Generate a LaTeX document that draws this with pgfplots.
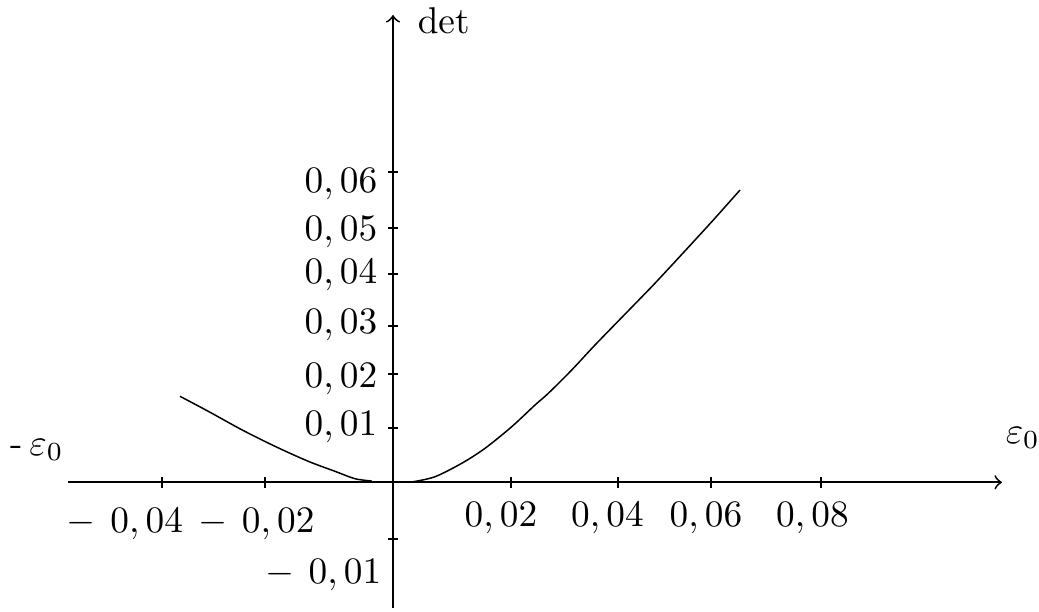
\documentclass[border=0pt]{standalone}
\usepackage{pgfplots}
\pgfplotsset{compat=1.18}
\newcommand{\mn}{-\mskip7mu}
\begin{document}
\begin{tikzpicture}
\begin{axis}[
  scale only axis, width=250.312pt, height=158.924pt,
  at={(0pt,0pt)}, anchor=south west,
  axis lines=middle,
  axis line style={line width=0.5pt, ->},
  clip=false,
  xmin=-0.060748, xmax=0.113832, ymin=-0.024327, ymax=0.090440,
  scaled ticks=false,
  xtick={-0.043178,-0.023925,0.022056,0.042056,0.059439,0.08},
  ytick={-0.010973,0.010567,0.020902,0.030308,0.040314,0.049274,0.059996},
  xticklabels={}, yticklabels={},
  tick align=center, major tick length=2.8pt,
  tick style={line width=0.5pt, black},
  extra x ticks={-0.050093,-0.025514,0.020187,0.040093,0.058505,0.078411},
  extra x tick labels={{\raisebox{-1.6pt}{$\mn 0,04$}},{\raisebox{-1.6pt}{$\mn 0,02$}},{$0,02$},{$0,04$},{$0,06$},{$0,08$}},
  extra x tick style={major tick length=0pt, xticklabel style={anchor=base, yshift=-11.8pt, inner sep=0pt}},
  extra y ticks={-0.019489,0.009154,0.018444,0.028894,0.038571,0.046893,0.056183},
  extra y tick labels={{$\mn 0,01$\kern-1.07pt},{$0,01$},{$0,02$},{$0,03$},{$0,04$},{$0,05$},{$0,06$}},
  extra y tick style={major tick length=0pt, yticklabel style={anchor=base east, xshift=-4.02pt, inner sep=0pt}},
  xlabel={$\varepsilon_0$},
  xlabel style={at={(rel axis cs:1.00321,0.27825)}, anchor=base west, inner sep=0pt},
  ylabel={$\det$},
  ylabel style={at={(rel axis cs:0.37366,0.96965)}, anchor=base west, inner sep=0pt},
]
\addplot[black, line width=0.4pt, smooth, tension=0.5] coordinates {
(-0.039813,0.016644) (-0.034523,0.013741) (-0.028280,0.010180) (-0.022056,0.006967)
(-0.015832,0.004064) (-0.010841,0.002129) (-0.007103,0.000697) (-0.003981,0.000250)};
\addplot[black, line width=0.4pt, smooth, tension=0.5] coordinates {
(0.003794,0.000116) (0.007850,0.001084) (0.012841,0.003677) (0.017196,0.006580)
(0.022187,0.010761) (0.026542,0.014960) (0.029028,0.017225) (0.033402,0.021734)
(0.037757,0.026573) (0.044299,0.033540) (0.048654,0.038185) (0.052710,0.042694)
(0.056449,0.046894) (0.059869,0.050765) (0.064860,0.056571)};
\node[anchor=base west, inner sep=0pt] at (rel axis cs:-0.0621,0.2580) {-\,$\varepsilon_0$};
\end{axis}
\pgfresetboundingbox
\path (-18.224pt,-0.804pt) rectangle (260.228pt,162.944pt);
\end{tikzpicture}
\end{document}
